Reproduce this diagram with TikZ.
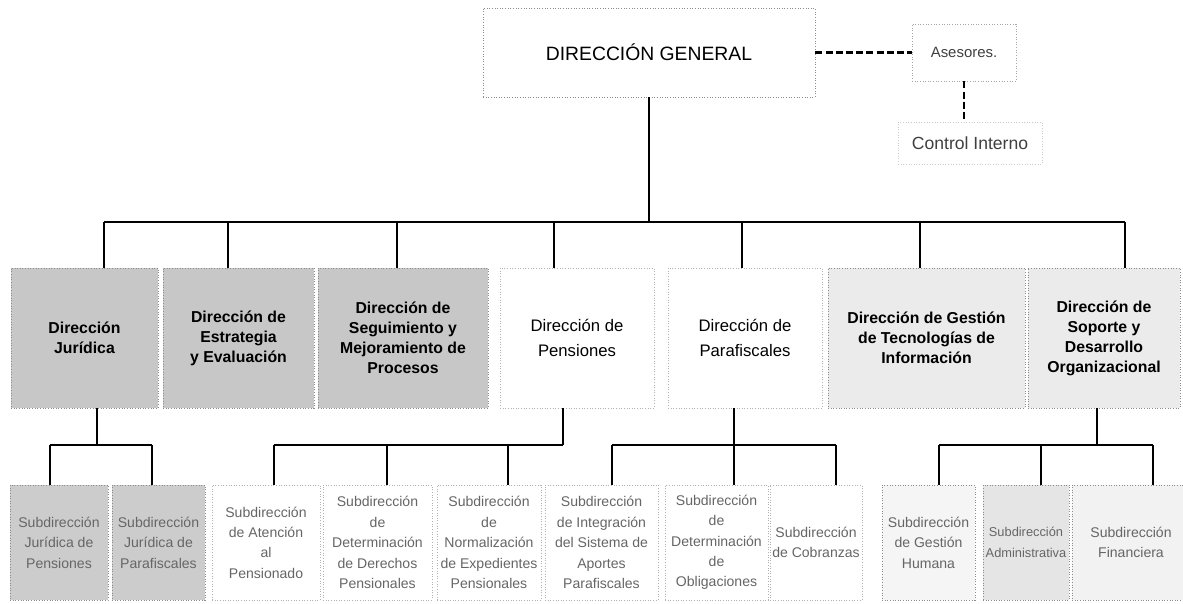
\documentclass[tikz,border=0pt]{standalone}
\usepackage{fontspec}
\setmainfont{Liberation Sans}
\usetikzlibrary{calc}
\newcommand\mybox[7]{%
  \pgfmathsetmacro\bw{(#4-#2)*0.02}%
  \pgfmathsetmacro\bh{(#5-#3)*0.02}%
  \node[box,#6,minimum width=\bw cm,minimum height=\bh cm] (#1) at ({(#2+#4)/2},{(#3+#5)/2}) {#7};}
\begin{document}
\begin{tikzpicture}[x=0.02cm,y=-0.02cm,
  box/.style={draw=black!45, densely dotted, line width=0.5pt, inner sep=0pt, align=center},
  conn/.style={line width=1.2pt, black, solid},
  dashc/.style={line width=1.2pt, black, dash pattern=on 4pt off 1.8pt},
  lvtwo/.style={font=\fontsize{9}{11.4}\selectfont\bfseries},
  lvtwor/.style={font=\fontsize{9.5}{14}\selectfont},
  lvthree/.style={font=\fontsize{8}{11.6}\selectfont, text=black!60},
  shade/.style={fill=black!22},
  lshade/.style={fill=black!8}]
\useasboundingbox[fill=white] (0,0) rectangle (1183,603);

% top level
\mybox{dg}{483}{8}{815}{97}{}{\fontsize{11}{13}\selectfont DIRECCIÓN GENERAL}
\mybox{ase}{912}{24}{1016}{81}{draw=black!35}{\fontsize{8.5}{10}\selectfont\color{black!75}Asesores.}
\mybox{ci}{898}{122}{1042}{164}{draw=black!20}{\fontsize{10}{12}\selectfont\color{black!75}Control Interno}
\draw[dashc] (dg.east) -- (ase.west);
\draw[dashc] (ase.south) -- (ase.south |- ci.north);

% second level
\mybox{dj}{11}{268}{158}{408}{shade,lvtwo}{Dirección\\Jurídica}
\mybox{de}{163}{268}{314}{408}{shade,lvtwo}{Dirección de\\Estrategia\\y Evaluación}
\mybox{ds}{318}{268}{488}{408}{shade,lvtwo}{Dirección de\\Seguimiento y\\Mejoramiento de\\Procesos}
\mybox{dp}{500}{268}{654}{408}{lvtwor,draw=black!30}{Dirección de\\Pensiones}
\mybox{dpf}{668}{268}{822}{408}{lvtwor,draw=black!30}{Dirección de\\Parafiscales}
\mybox{dt}{828}{268}{1025}{408}{lshade,lvtwo}{Dirección de Gestión\\de Tecnologías de\\Información}
\mybox{dso}{1028}{268}{1180}{408}{lshade,lvtwo}{Dirección de\\Soporte y\\Desarrollo\\Organizacional}

% main bus
\coordinate (t1) at (104,222);
\coordinate (t2) at (228,222);
\coordinate (t3) at (397,222);
\coordinate (t4) at (554,222);
\coordinate (t5) at (742,222);
\coordinate (t6) at (920,222);
\coordinate (t7) at (1125,222);
\draw[conn] (dg.south) -- (dg.south |- t1);
\draw[conn] (t1) -- (t7);
\draw[conn] (t1) -- (t1 |- dj.north);
\draw[conn] (t2) -- (t2 |- de.north);
\draw[conn] (t3) -- (t3 |- ds.north);
\draw[conn] (t4) -- (t4 |- dp.north);
\draw[conn] (t5) -- (t5 |- dpf.north);
\draw[conn] (t6) -- (t6 |- dt.north);
\draw[conn] (t7) -- (t7 |- dso.north);

% third level
\mybox{s1}{10}{485}{108}{600}{lvthree,fill=black!20}{Subdirección\\Jurídica de\\Pensiones}
\mybox{s2}{112}{485}{205}{600}{lvthree,fill=black!20}{Subdirección\\Jurídica de\\Parafiscales}
\mybox{s3}{212}{485}{320}{600}{lvthree,draw=black!30}{Subdirección\\de Atención\\al\\Pensionado}
\mybox{s4}{323}{485}{432}{600}{lvthree,draw=black!30}{Subdirección\\de\\Determinación\\de Derechos\\Pensionales}
\mybox{s5}{437}{485}{541}{600}{lvthree,draw=black!30}{Subdirección\\de\\Normalización\\de Expedientes\\Pensionales}
\mybox{s6}{545}{485}{658}{600}{lvthree,draw=black!30}{Subdirección\\de Integración\\del Sistema de\\Aportes\\Parafiscales}
\mybox{s7}{665}{485}{768}{600}{lvthree,draw=black!30}{Subdirección\\de\\Determinación\\de\\Obligaciones}
\mybox{s8}{770}{485}{862}{600}{lvthree,draw=black!30}{Subdirección\\de Cobranzas}
\mybox{s9}{882}{485}{975}{600}{lvthree,fill=black!4}{Subdirección\\de Gestión\\Humana}
\mybox{s10}{983}{485}{1069}{600}{lvthree,fill=black!10,font=\fontsize{7.3}{11.6}\selectfont}{Subdirección\\Administrativa}
\mybox{s11}{1072}{485}{1190}{600}{lvthree,fill=black!5}{Subdirección\\Financiera}

% group Juridica
\coordinate (jv) at (97,445);
\coordinate (j1) at (50,445);
\coordinate (j2) at (152,445);
\draw[conn] (jv |- dj.south) -- (jv);
\draw[conn] (j1) -- (j2);
\draw[conn] (j1) -- (j1 |- s1.north);
\draw[conn] (j2) -- (j2 |- s2.north);
% group Pensiones
\coordinate (pv) at (563,445);
\coordinate (p1) at (274,445);
\coordinate (p2) at (387,445);
\coordinate (p3) at (508,445);
\draw[conn] (pv |- dp.south) -- (pv);
\draw[conn] (p1) -- (pv);
\draw[conn] (p1) -- (p1 |- s3.north);
\draw[conn] (p2) -- (p2 |- s4.north);
\draw[conn] (p3) -- (p3 |- s5.north);
% group Parafiscales
\coordinate (fv) at (734,445);
\coordinate (f1) at (612,445);
\coordinate (f3) at (836,445);
\draw[conn] (fv |- dpf.south) -- (fv);
\draw[conn] (f1) -- (f3);
\draw[conn] (f1) -- (f1 |- s6.north);
\draw[conn] (fv) -- (fv |- s7.north);
\draw[conn] (f3) -- (f3 |- s8.north);
% group Soporte
\coordinate (ov) at (1097,445);
\coordinate (o1) at (939,445);
\coordinate (o2) at (1041,445);
\coordinate (o3) at (1153,445);
\draw[conn] (ov |- dso.south) -- (ov);
\draw[conn] (o1) -- (o3);
\draw[conn] (o1) -- (o1 |- s9.north);
\draw[conn] (o2) -- (o2 |- s10.north);
\draw[conn] (o3) -- (o3 |- s11.north);
\end{tikzpicture}
\end{document}
